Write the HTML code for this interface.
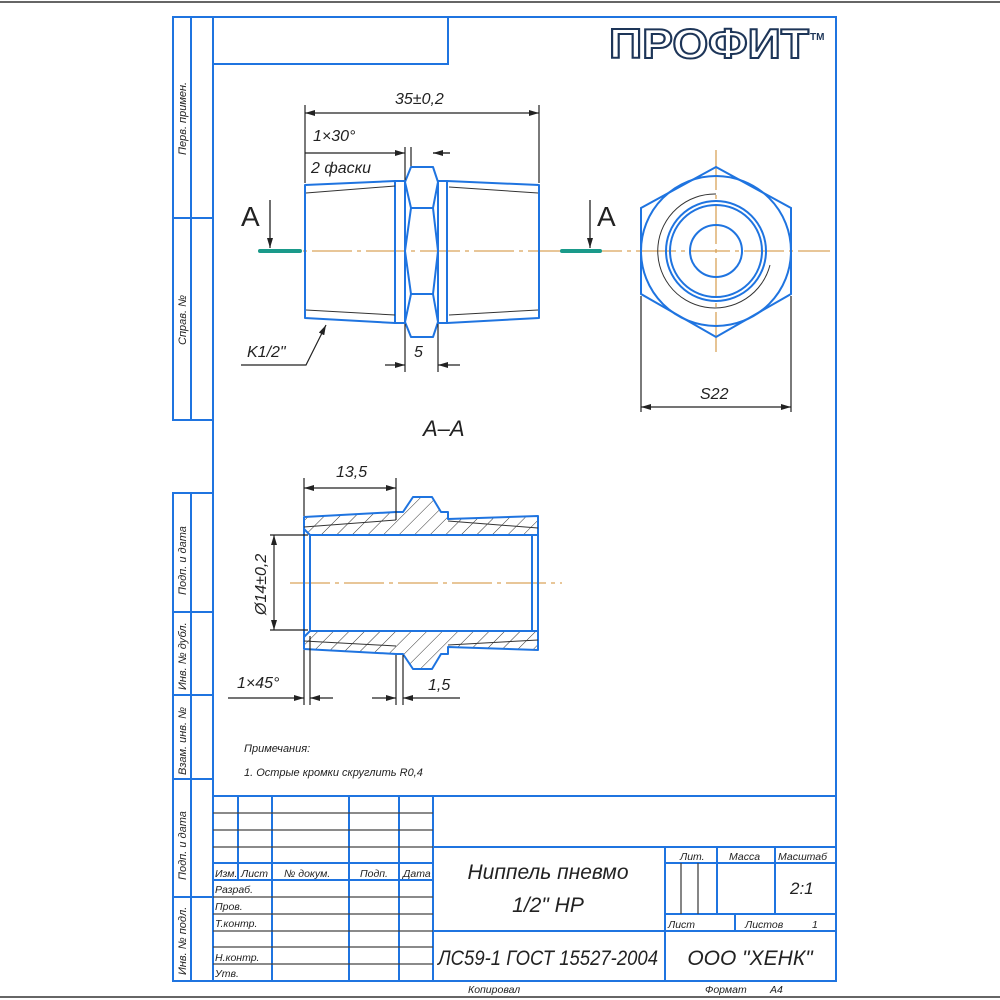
<!DOCTYPE html>
<html><head><meta charset="utf-8"><style>
html,body{margin:0;padding:0;background:#fff}
svg{display:block}
text{font-family:"Liberation Sans","DejaVu Sans",sans-serif;font-style:italic;fill:#222}
</style></head><body>
<svg width="1000" height="1000" viewBox="0 0 1000 1000" xmlns="http://www.w3.org/2000/svg">
<defs>
<pattern id="h" width="11" height="11" patternUnits="userSpaceOnUse" patternTransform="rotate(45)">
<line x1="0" y1="0" x2="0" y2="11" stroke="#333" stroke-width="1"/>
</pattern>
<marker id="ar" viewBox="0 0 10 6" refX="10" refY="3" markerWidth="10" markerHeight="6" orient="auto-start-reverse" markerUnits="userSpaceOnUse">
<path d="M0,0 L10,3 L0,6 z" fill="#222"/></marker>
</defs>
<rect width="1000" height="1000" fill="#fff"/>
<line x1="0" y1="2" x2="1000" y2="2" stroke="#666" stroke-width="2"/>
<line x1="0" y1="997" x2="1000" y2="997" stroke="#666" stroke-width="2"/>

<g stroke="#1f74e0" stroke-width="2" fill="none">
<!-- frame -->
<rect x="213" y="17" width="623" height="964"/>
<rect x="213" y="17" width="235" height="47"/>
<!-- left strip upper -->
<polyline points="213,17 173,17 173,420 213,420"/>
<line x1="191" y1="17" x2="191" y2="420"/>
<line x1="173" y1="218" x2="213" y2="218"/>
<!-- left strip lower -->
<polyline points="213,493 173,493 173,981 213,981"/>
<line x1="191" y1="493" x2="191" y2="981"/>
<line x1="173" y1="612" x2="213" y2="612"/>
<line x1="173" y1="695" x2="213" y2="695"/>
<line x1="173" y1="779" x2="213" y2="779"/>
<line x1="173" y1="897" x2="213" y2="897"/>
<!-- title block -->
<line x1="213" y1="796" x2="836" y2="796"/>
<line x1="433" y1="796" x2="433" y2="981"/>
<line x1="433" y1="847" x2="836" y2="847"/>
<line x1="433" y1="931" x2="836" y2="931"/>
<line x1="665" y1="847" x2="665" y2="981"/>
<line x1="717" y1="847" x2="717" y2="914"/>
<line x1="775" y1="847" x2="775" y2="914"/>
<line x1="665" y1="863" x2="836" y2="863"/>
<line x1="665" y1="914" x2="836" y2="914"/>
<line x1="735" y1="914" x2="735" y2="931"/>
<line x1="238" y1="796" x2="238" y2="880"/>
<line x1="272" y1="796" x2="272" y2="981"/>
<line x1="349" y1="796" x2="349" y2="981"/>
<line x1="399" y1="796" x2="399" y2="981"/>
<line x1="213" y1="863" x2="433" y2="863"/>
<line x1="213" y1="880" x2="433" y2="880"/>
</g>
<g stroke="#444" stroke-width="1.3">
<line x1="213" y1="813" x2="433" y2="813"/>
<line x1="213" y1="830" x2="433" y2="830"/>
<line x1="213" y1="847" x2="433" y2="847"/>
<line x1="213" y1="897" x2="433" y2="897"/>
<line x1="213" y1="914" x2="433" y2="914"/>
<line x1="213" y1="931" x2="433" y2="931"/>
<line x1="213" y1="947" x2="433" y2="947"/>
<line x1="213" y1="964" x2="433" y2="964"/>
<line x1="681" y1="863" x2="681" y2="914"/>
<line x1="698" y1="863" x2="698" y2="914"/>
</g>

<!-- left strip labels -->
<g font-size="11">
<text transform="translate(186,155) rotate(-90)">Перв. примен.</text>
<text transform="translate(186,345) rotate(-90)">Справ. №</text>
<text transform="translate(186,595) rotate(-90)">Подп. и дата</text>
<text transform="translate(186,690) rotate(-90)">Инв. № дубл.</text>
<text transform="translate(186,775) rotate(-90)">Взам. инв. №</text>
<text transform="translate(186,880) rotate(-90)">Подп. и дата</text>
<text transform="translate(186,975) rotate(-90)">Инв. № подл.</text>
</g>
<!-- title block labels -->
<g font-size="10.5">
<text x="215" y="877">Изм.</text><text x="241" y="877">Лист</text>
<text x="284" y="877">№ докум.</text><text x="360" y="877">Подп.</text><text x="403" y="877">Дата</text>
<text x="215" y="893">Разраб.</text><text x="215" y="910">Пров.</text>
<text x="215" y="927">Т.контр.</text><text x="215" y="961">Н.контр.</text><text x="215" y="977">Утв.</text>
<text x="680" y="860">Лит.</text><text x="729" y="860">Масса</text><text x="778" y="860">Масштаб</text>
<text x="668" y="928">Лист</text><text x="745" y="928">Листов</text><text x="812" y="928">1</text>
<text x="468" y="993">Копировал</text><text x="705" y="993">Формат</text><text x="770" y="993">A4</text>
</g>
<text x="790" y="894" font-size="17">2:1</text>
<g font-size="21" text-anchor="middle">
<text x="548" y="879">Ниппель пневмо</text>
<text x="548" y="912">1/2" НР</text>
<text x="548" y="965" textLength="220" lengthAdjust="spacingAndGlyphs">ЛС59-1 ГОСТ 15527-2004</text>
<text x="750" y="965">ООО "ХЕНК"</text>
</g>

<!-- logo -->
<text x="609" y="58" font-size="42" font-weight="bold" font-style="normal" textLength="200" lengthAdjust="spacingAndGlyphs" style="fill:#fff;stroke:#1d3558;stroke-width:2;font-style:normal">ПРОФИТ</text>
<text x="810" y="40" font-size="10" font-weight="bold" style="fill:#1d3558;font-style:normal">TM</text>

<!-- centerlines -->
<g stroke="#d9a35a" stroke-width="1.3" stroke-dasharray="40,5,4,5">
<line x1="258" y1="251" x2="830" y2="251"/>
<line x1="716" y1="150" x2="716" y2="356"/>
<line x1="290" y1="583" x2="562" y2="583"/>
</g>

<!-- front view -->
<g stroke="#1f74e0" stroke-width="2" fill="none" stroke-linejoin="round">
<polygon points="305,185 395,181 395,323 305,318"/>
<rect x="395" y="181" width="10" height="142"/>
<path d="M411,167 L433,167 L438,182 L433,208 L438,251 L433,294 L438,322 L433,337 L411,337 L405,322 L411,294 L405,251 L411,208 L405,182 Z"/>
<line x1="411" y1="208" x2="433" y2="208"/>
<line x1="411" y1="294" x2="433" y2="294"/>
<rect x="438" y="181" width="9" height="142"/>
<polygon points="447,181 539,185 539,318 447,323"/>
</g>
<g stroke="#333" stroke-width="1">
<line x1="306" y1="193" x2="395" y2="186"/><line x1="306" y1="310" x2="395" y2="315"/>
<line x1="449" y1="187" x2="538" y2="193"/><line x1="449" y1="315" x2="538" y2="310"/>
</g>
<!-- right view -->
<g stroke="#1f74e0" stroke-width="2" fill="none">
<polygon points="716,167 791,208 791,294 716,337 641,294 641,208"/>
<circle cx="716" cy="251" r="75"/>
<circle cx="716" cy="251" r="50"/>
<circle cx="716" cy="251" r="46"/>
<circle cx="716" cy="251" r="26"/>
</g>
<path d="M716,194 A57,57 0 1 0 770,265" stroke="#333" stroke-width="1" fill="none"/>

<!-- section markers -->
<g stroke="#1a9a8a" stroke-width="4" stroke-linecap="round">
<line x1="260" y1="251" x2="300" y2="251"/><line x1="562" y1="251" x2="600" y2="251"/>
</g>
<g stroke="#222" stroke-width="1.3">
<line x1="270" y1="200" x2="270" y2="248" marker-end="url(#ar)"/>
<line x1="590" y1="200" x2="590" y2="248" marker-end="url(#ar)"/>
</g>
<text x="241" y="226" font-size="28" style="font-style:normal">A</text>
<text x="597" y="226" font-size="28" style="font-style:normal">A</text>

<!-- front view dims -->
<g stroke="#222" stroke-width="1.2" fill="none">
<line x1="305" y1="105" x2="305" y2="183"/><line x1="539" y1="105" x2="539" y2="183"/>
<line x1="305" y1="113" x2="539" y2="113" marker-start="url(#ar)" marker-end="url(#ar)"/>
<line x1="305" y1="153" x2="405" y2="153" marker-end="url(#ar)"/>
<line x1="433" y1="153" x2="450" y2="153"/>
<line x1="450" y1="153" x2="433" y2="153" marker-end="url(#ar)"/>
<line x1="411" y1="147" x2="411" y2="166"/><line x1="405" y1="147" x2="405" y2="180"/>
<line x1="405" y1="324" x2="405" y2="372"/><line x1="438" y1="324" x2="438" y2="372"/>
<line x1="385" y1="365" x2="405" y2="365" marker-end="url(#ar)"/>
<line x1="460" y1="365" x2="438" y2="365" marker-end="url(#ar)"/>
<polyline points="241,365 306,365 326,325" marker-end="url(#ar)"/>
<line x1="641" y1="296" x2="641" y2="412"/><line x1="791" y1="296" x2="791" y2="412"/>
<line x1="641" y1="407" x2="791" y2="407" marker-start="url(#ar)" marker-end="url(#ar)"/>
</g>
<g font-size="16">
<text x="395" y="104">35±0,2</text>
<text x="313" y="141">1×30°</text>
<text x="311" y="173">2 фаски</text>
<text x="414" y="357">5</text>
<text x="247" y="357">K1/2"</text>
<text x="700" y="399">S22</text>
</g>
<text x="423" y="436" font-size="22">A–A</text>

<!-- section view -->
<g fill="url(#h)" stroke="#1f74e0" stroke-width="2" stroke-linejoin="round">
<polygon points="304,517 396,512 403,512 413,497 432,497 441,512 448,512 448,519 538,516 538,535 310,535 304,529"/>
<polygon points="304,649 396,654 403,654 413,669 432,669 441,654 448,654 448,647 538,650 538,631 310,631 304,637"/>
</g>
<g stroke="#1f74e0" stroke-width="2">
<line x1="310" y1="535" x2="310" y2="631"/><line x1="532" y1="535" x2="532" y2="631"/>
<line x1="538" y1="535" x2="538" y2="631"/><line x1="304" y1="529" x2="304" y2="637"/>
</g>
<g stroke="#333" stroke-width="1">
<line x1="304" y1="527" x2="396" y2="520"/><line x1="448" y1="521" x2="538" y2="528"/>
<line x1="304" y1="641" x2="396" y2="646"/><line x1="448" y1="645" x2="538" y2="640"/>
</g>
<g stroke="#222" stroke-width="1.2" fill="none">
<line x1="304" y1="478" x2="304" y2="516"/><line x1="396" y1="478" x2="396" y2="520"/>
<line x1="304" y1="488" x2="396" y2="488" marker-start="url(#ar)" marker-end="url(#ar)"/>
<line x1="270" y1="535" x2="308" y2="535"/><line x1="270" y1="630" x2="308" y2="630"/>
<line x1="274" y1="535" x2="274" y2="630" marker-start="url(#ar)" marker-end="url(#ar)"/>
<line x1="304" y1="650" x2="304" y2="705"/><line x1="310" y1="636" x2="310" y2="705"/>
<line x1="228" y1="698" x2="304" y2="698" marker-end="url(#ar)"/>
<line x1="333" y1="698" x2="310" y2="698" marker-end="url(#ar)"/>
<line x1="396" y1="655" x2="396" y2="705"/><line x1="403" y1="655" x2="403" y2="705"/>
<line x1="372" y1="698" x2="396" y2="698" marker-end="url(#ar)"/>
<line x1="460" y1="698" x2="403" y2="698" marker-end="url(#ar)"/>
</g>
<g font-size="16">
<text x="336" y="477">13,5</text>
<text transform="translate(266,615) rotate(-90)">Ø14±0,2</text>
<text x="237" y="688">1×45°</text>
<text x="428" y="690">1,5</text>
</g>
<g font-size="11" style="fill:#555">
<text x="244" y="752">Примечания:</text>
<text x="244" y="776">1. Острые кромки скруглить R0,4</text>
</g>
</svg>
</body></html>
